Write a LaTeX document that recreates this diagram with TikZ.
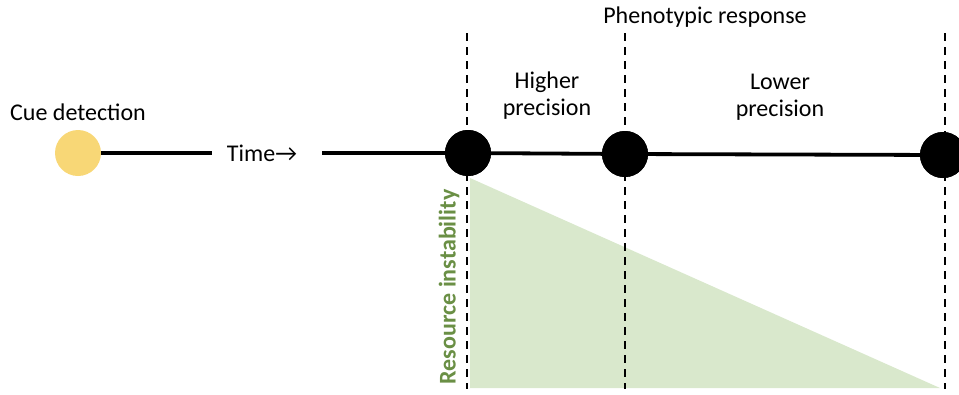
\documentclass[tikz,border=0pt]{standalone}
\usepackage{fontspec}
\setmainfont{Carlito}
\definecolor{cuegold}{HTML}{F8D776}
\definecolor{fillgreen}{HTML}{D9E8CC}
\definecolor{labelgreen}{HTML}{6A8F45}
\begin{document}
\begin{tikzpicture}[x=1pt,y=-1pt,
  lbl/.style={font=\fontsize{24}{28}\selectfont, align=center, inner sep=0pt},
  event/.style={circle, fill=black, minimum size=46pt, inner sep=0pt},
  cue/.style={circle, fill=cuegold, minimum size=46pt, inner sep=0pt},
  timeline/.style={line width=3.8pt},
  guide/.style={line width=1.6pt, dash pattern=on 8pt off 6pt}]
\useasboundingbox (0,0) rectangle (959,394);
% shaded resource-instability wedge
\fill[fillgreen] (470,178) -- (470,388) -- (940,388) -- cycle;
% dashed phase boundaries
\coordinate (g1t) at (467,33); \coordinate (g1b) at (467,389);
\coordinate (g2t) at (625,33); \coordinate (g2b) at (625,389);
\coordinate (g3t) at (945,33); \coordinate (g3b) at (945,389);
\draw[guide] (g1t) -- (g1b);
\draw[guide] (g2t) -- (g2b);
\draw[guide] (g3t) -- (g3b);
% time axis
\node[cue] (cue) at (78,153) {};
\node[lbl] (time) at (262,153) {Time→};
\node[event] (e1) at (468,153) {};
\node[event] (e2) at (625,154) {};
\node[event] (e3) at (943,155) {};
\coordinate (ta) at (212,153);
\coordinate (tb) at (322,153);
\draw[timeline] (cue.east) -- (ta);
\draw[timeline] (tb) -- (e1.west);
\draw[timeline] (e1) -- (e2);
\draw[timeline] (e2) -- (e3);
\fill (e1) circle (23);
\fill (e2) circle (23);
\fill (e3) circle (23);
% labels
\node[lbl] (cuelbl) at (78,112) {Cue detection};
\node[lbl] (pheno) at (705,17) {Phenotypic response};
\node[lbl] (hp) at (547,96) {Higher\\[-1pt]precision};
\node[lbl] (lp) at (780,97) {Lower\\[-1pt]precision};
\node[lbl, font=\fontsize{24}{28}\selectfont\bfseries, text=labelgreen, rotate=90] (ri) at (449,287) {Resource instability};
\end{tikzpicture}
\end{document}
